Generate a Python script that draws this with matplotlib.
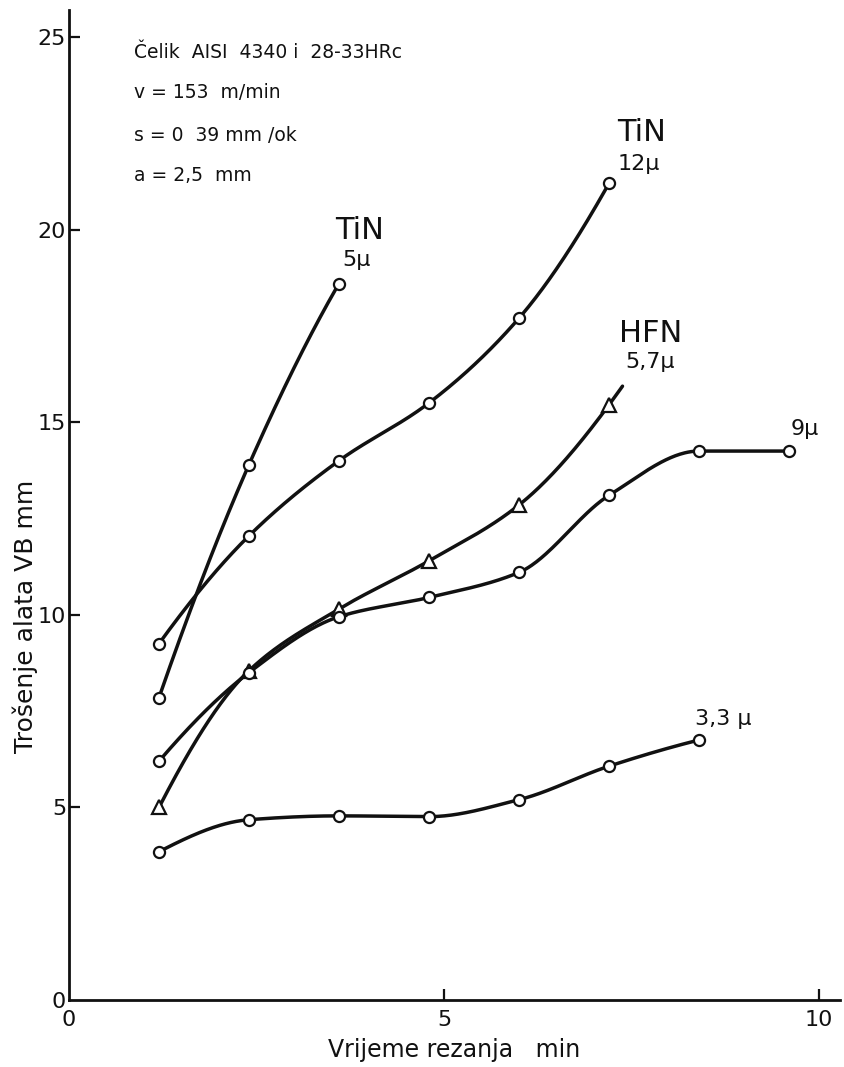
import numpy as np
import matplotlib
matplotlib.use("Agg")
import matplotlib.pyplot as plt

# ---- data ----
t_all = [1.2, 2.4, 3.6, 4.8, 6.0, 7.2, 8.4, 9.6]
tin5 = [7.85, 13.9, 18.6]
tin12 = [9.25, 12.05, 14.0, 15.5, 17.7, 21.2]
hfn57 = [5.0, 8.55, 10.15, 11.4, 12.85, 15.45]
coat9 = [6.2, 8.5, 9.95, 10.45, 11.1, 13.1, 14.25, 14.25]
coat33 = [3.85, 4.68, 4.78, 4.76, 5.2, 6.07, 6.75]

x_ticks = [0, 5, 10]
y_ticks = [0, 5, 10, 15, 20, 25]
info_lines = ["Čelik  AISI  4340 i  28-33HRc", "v = 153  m/min", "s = 0  39 mm /ok", "a = 2,5  mm"]


def pchip(x, y, xs):
    x = np.asarray(x, float)
    y = np.asarray(y, float)
    n = len(x)
    h = np.diff(x)
    delta = np.diff(y) / h
    d = np.zeros(n)
    for k in range(1, n - 1):
        if delta[k - 1] * delta[k] <= 0:
            d[k] = 0.0
        else:
            w1 = 2 * h[k] + h[k - 1]
            w2 = h[k] + 2 * h[k - 1]
            d[k] = (w1 + w2) / (w1 / delta[k - 1] + w2 / delta[k])

    def end_slope(h0, h1, d0, d1):
        s = ((2 * h0 + h1) * d0 - h0 * d1) / (h0 + h1)
        if np.sign(s) != np.sign(d0):
            s = 0.0
        elif np.sign(d0) != np.sign(d1) and abs(s) > abs(3 * d0):
            s = 3 * d0
        return s

    if n > 2:
        d[0] = end_slope(h[0], h[1], delta[0], delta[1])
        d[-1] = end_slope(h[-1], h[-2], delta[-1], delta[-2])
    else:
        d[:] = delta[0]
    idx = np.clip(np.searchsorted(x, xs) - 1, 0, n - 2)
    hh = h[idx]
    t = (xs - x[idx]) / hh
    h00 = 2 * t ** 3 - 3 * t ** 2 + 1
    h10 = t ** 3 - 2 * t ** 2 + t
    h01 = -2 * t ** 3 + 3 * t ** 2
    h11 = t ** 3 - t ** 2
    return h00 * y[idx] + h10 * hh * d[idx] + h01 * y[idx + 1] + h11 * hh * d[idx + 1]


plt.rcParams['font.family'] = ['DejaVu Sans']
W, H = 844, 1067
fig = plt.figure(figsize=(W / 100, H / 100), dpi=100)
ax = fig.add_axes([69 / W, (H - 1000) / H, (840 - 69) / W, (1000 - 10) / H])
ax.set_xlim(0, 10.28)
ax.set_ylim(0, 25.7)

ink = '#111111'
lw = 2.5


def draw(xv, yv, marker, ms, tail=0.0):
    xv = np.asarray(xv, float)
    xs = np.linspace(xv[0], xv[-1] + tail, 400)
    ax.plot(xs, pchip(xv, yv, xs), color=ink, lw=lw, solid_capstyle='round', zorder=2)
    ax.plot(xv, yv, linestyle='none', marker=marker, ms=ms, mfc='white', mec=ink, mew=1.6, zorder=3)


draw(t_all[:len(tin5)], tin5, 'o', 8)
draw(t_all[:len(tin12)], tin12, 'o', 8)
draw(t_all[:len(hfn57)], hfn57, '^', 10, tail=0.18)
draw(t_all[:len(coat9)], coat9, 'o', 8)
draw(t_all[:len(coat33)], coat33, 'o', 8)

# spines / ticks
for s in ('top', 'right'):
    ax.spines[s].set_visible(False)
for s in ('left', 'bottom'):
    ax.spines[s].set_linewidth(2.0)
    ax.spines[s].set_color(ink)
ax.set_xticks(x_ticks)
ax.set_yticks(y_ticks)
ax.set_xticklabels([str(v) for v in x_ticks])
ax.set_yticklabels([str(v) for v in y_ticks])
ax.tick_params(direction='in', length=8, width=1.6, color=ink, labelsize=16, labelcolor=ink)
ax.tick_params(axis='x', pad=7)
ax.tick_params(axis='y', pad=2)
ax.xaxis.get_major_ticks()[0].tick1line.set_visible(False)
ax.yaxis.get_major_ticks()[0].tick1line.set_visible(False)

ax.set_xlabel("Vrijeme rezanja   min", fontsize=17, color=ink, labelpad=6)
ax.set_ylabel("Trošenje alata VB mm", fontsize=18, color=ink)
ax.yaxis.set_label_coords(-0.040, 0.388)

# info text block
for i, line in enumerate(info_lines):
    ax.text(0.86, [24.6, 23.56, 22.44, 21.4][i], line, fontsize=13.5, color=ink,
            ha='left', va='center')

# curve labels
ax.text(3.88, 19.97, "TiN", fontsize=22, ha='center', va='center', color=ink)
ax.text(3.84, 19.2, "5μ", fontsize=16, ha='center', va='center', color=ink)
ax.text(7.64, 22.53, "TiN", fontsize=22, ha='center', va='center', color=ink)
ax.text(7.59, 21.71, "12μ", fontsize=16, ha='center', va='center', color=ink)
ax.text(7.75, 17.3, "HFN", fontsize=22, ha='center', va='center', color=ink)
ax.text(7.75, 16.55, "5,7μ", fontsize=16, ha='center', va='center', color=ink)
ax.text(9.81, 14.83, "9μ", fontsize=16, ha='center', va='center', color=ink)
ax.text(8.72, 7.3, "3,3 μ", fontsize=16, ha='center', va='center', color=ink)

fig.savefig("out.png", dpi=100, facecolor='white')
